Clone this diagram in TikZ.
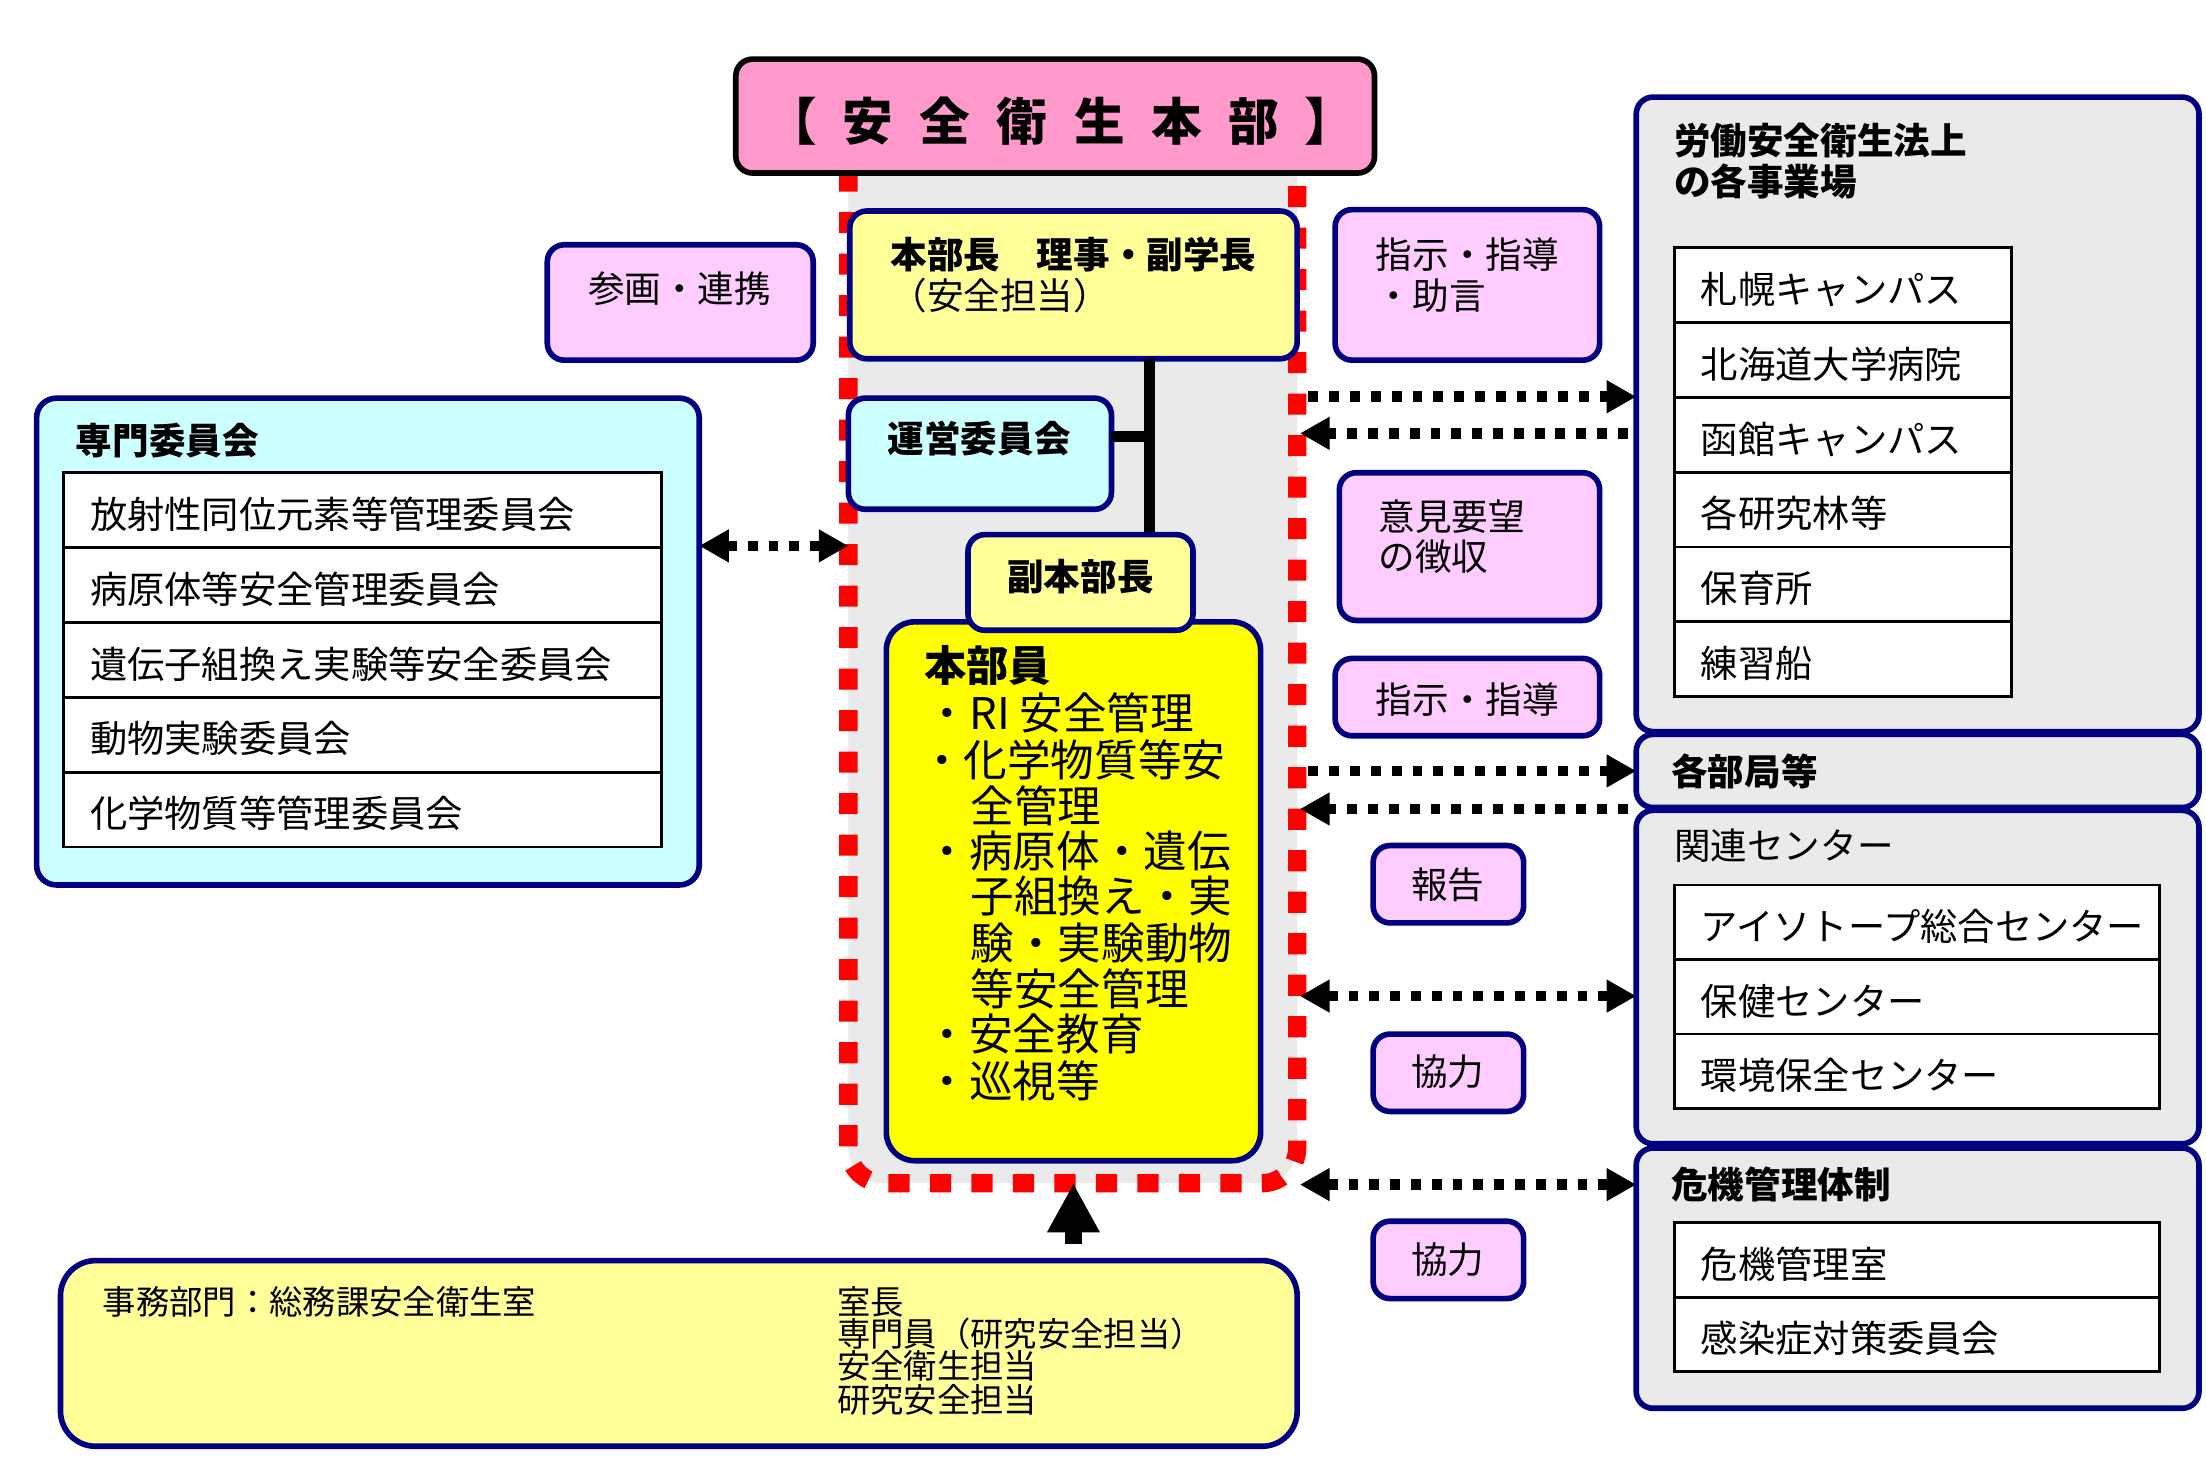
\documentclass[tikz,border=0pt]{standalone}
\usepackage{fontspec}
\setmainfont{Noto Sans CJK JP}
\usetikzlibrary{arrows.meta}
\definecolor{navy}{HTML}{000080}
\definecolor{pinkt}{HTML}{FF99CC}
\definecolor{lpink}{HTML}{FFCCFF}
\definecolor{lcyan}{HTML}{CCFFFF}
\definecolor{lyel}{HTML}{FFFF99}
\definecolor{yel}{HTML}{FFFF00}
\definecolor{lgray}{HTML}{EAEAEA}
\newcommand\fsz[1]{\fontsize{#1pt}{#1pt}\selectfont}
\begin{document}
\begin{tikzpicture}[x=1pt,y=-1pt,
  every node/.style={inner sep=0pt, outer sep=0pt},
  box/.style={draw=navy, line width=4pt, rounded corners=12pt, anchor=north west},
  txt/.style={anchor=west, font=\fsz{26}},
  btxt/.style={anchor=west, font=\fsz{26}\bfseries},
  ctxt/.style={font=\fsz{26}},
  row/.style={draw=black, line width=2pt, fill=white, anchor=north west, align=left, inner xsep=19pt,
              font=\fsz{26.5}, text height=28pt, text depth=2pt},
  dotline/.style={line width=7.5pt, dash pattern=on 7pt off 7.8pt},
  bigline/.style={line width=8pt}
]
\useasboundingbox (0,0) rectangle (1568,1051);
\fill[white] (0,0) rectangle (1568,1051);

% central region
\node[draw=red, fill=lgray, line width=13pt, dash pattern=on 15pt off 14.5pt, rounded corners=25pt,
      minimum width=319pt, minimum height=761pt, anchor=south west] (core) at (603,841) {};

% title
\node[draw=black, line width=4pt, fill=pinkt, rounded corners=12pt, minimum width=454pt, minimum height=81pt,
      anchor=north west] (title) at (523,42) {};
\node[font=\fsz{36}\bfseries] (titletext) at (754,86) {【\hspace{18pt}安\hspace{19pt}全\hspace{19pt}衛\hspace{19pt}生\hspace{19pt}本\hspace{19pt}部\hspace{18pt}】};

% connectors inside core
\coordinate (vx) at (817,0);
\coordinate (hy) at (0,310);

% boxes in core
\node[box, fill=lyel, minimum width=318pt, minimum height=105pt] (honbucho) at (604,150) {};
\node[box, fill=lcyan, minimum width=187pt, minimum height=79pt] (unei) at (603,283) {};
\draw[bigline] (honbucho.south -| vx) -- (vx |- 0,380) coordinate (vend);
\draw[bigline] (unei.east |- hy) -- (vx |- hy);
\node[btxt] (hb1) at (633,181) {本部長　理事・副学長};
\node[txt] (hb2) at (633,210) {（安全担当）};
\node[btxt, anchor=center] (uneit) at (696,312) {運営委員会};

\node[box, fill=yel, rounded corners=20pt, minimum width=266pt, minimum height=383pt] (honbuin) at (630,442) {};
\node[box, fill=lyel, minimum width=160pt, minimum height=68pt] (fuku) at (688,380) {};
\node[btxt, anchor=center] (fukut) at (768,410) {副本部長};

\node[anchor=west, font=\fsz{30}\bfseries] (m0) at (657,473) {本部員};
\node[anchor=west, font=\fsz{31}] (m1) at (658,507) {・RI 安全管理};
\node[anchor=west, font=\fsz{31}] (m2) at (654,540) {・化学物質等安};
\node[anchor=west, font=\fsz{31}] (m3) at (690,573) {全管理};
\node[anchor=west, font=\fsz{31}] (m4) at (658,605) {・病原体・遺伝};
\node[anchor=west, font=\fsz{31}] (m5) at (690,637) {子組換え・実};
\node[anchor=west, font=\fsz{31}] (m6) at (690,670) {験・実験動物};
\node[anchor=west, font=\fsz{31}] (m7) at (690,703) {等安全管理};
\node[anchor=west, font=\fsz{31}] (m8) at (658,735) {・安全教育};
\node[anchor=west, font=\fsz{31}] (m9) at (658,768) {・巡視等};

% left side
\node[box, fill=lpink, minimum width=189pt, minimum height=82pt] (sankaku) at (389,174) {};
\node[ctxt] (sankakut) at (483,205) {参画・連携};

\node[box, fill=lcyan, rounded corners=14pt, minimum width=471pt, minimum height=346pt] (senmon) at (26,283) {};
\node[btxt] (senmont) at (54,313) {専門委員会};
\node[row, text width=387pt, minimum height=53.2pt] (s1) at (45,336) {放射性同位元素等管理委員会};
\node[row, text width=387pt, minimum height=53.2pt] (s2) at (45,389.2) {病原体等安全管理委員会};
\node[row, text width=387pt, minimum height=53.2pt] (s3) at (45,442.4) {遺伝子組換え実験等安全委員会};
\node[row, text width=387pt, minimum height=53.2pt] (s4) at (45,495.6) {動物実験委員会};
\node[row, text width=387pt, minimum height=53.2pt] (s5) at (45,548.8) {化学物質等管理委員会};

\coordinate (ly) at (0,388);
\draw[dotline, {Triangle[length=21pt, width=22pt]}-{Triangle[length=21pt, width=22pt]}] (senmon.east |- ly) -- (core.west |- ly);

% right pink boxes
\node[box, fill=lpink, minimum width=188pt, minimum height=107pt] (shiji1) at (949,149) {};
\node[txt] (shiji1a) at (978,181) {指示・指導};
\node[txt] (shiji1b) at (978,210) {・助言};
\node[box, fill=lpink, minimum width=185pt, minimum height=105pt] (iken) at (952,336) {};
\node[txt] (ikena) at (980,367) {意見要望};
\node[txt] (ikenb) at (980,396) {の徴収};
\node[box, fill=lpink, minimum width=188pt, minimum height=55pt] (shiji2) at (949,468) {};
\node[ctxt] (shiji2t) at (1043,497) {指示・指導};
\node[box, fill=lpink, minimum width=107pt, minimum height=55pt] (hokoku) at (976,601) {};
\node[ctxt] (hokokut) at (1029,629) {報告};
\node[box, fill=lpink, minimum width=107pt, minimum height=55pt] (kyo1) at (976,735) {};
\node[ctxt] (kyo1t) at (1029,762) {協力};
\node[box, fill=lpink, minimum width=107pt, minimum height=55pt] (kyo2) at (976,868) {};
\node[ctxt] (kyo2t) at (1029,895) {協力};

% right gray boxes
\node[box, fill=lgray, minimum width=400pt, minimum height=451pt] (ra) at (1163,69) {};
\node[btxt] (rat1) at (1190,100) {労働安全衛生法上};
\node[btxt] (rat2) at (1190,129) {の各事業場};
\node[row, text width=202pt, minimum height=53.2pt] (a1) at (1190,176) {札幌キャンパス};
\node[row, text width=202pt, minimum height=53.2pt] (a2) at (1190,229.2) {北海道大学病院};
\node[row, text width=202pt, minimum height=53.2pt] (a3) at (1190,282.4) {函館キャンパス};
\node[row, text width=202pt, minimum height=53.2pt] (a4) at (1190,335.6) {各研究林等};
\node[row, text width=202pt, minimum height=53.2pt] (a5) at (1190,388.8) {保育所};
\node[row, text width=202pt, minimum height=53.2pt] (a6) at (1190,442) {練習船};

\node[box, fill=lgray, minimum width=400pt, minimum height=52pt] (rb) at (1163,522) {};
\node[btxt] (rbt) at (1188,548) {各部局等};

\node[box, fill=lgray, minimum width=400pt, minimum height=237pt] (rc) at (1163,576) {};
\node[txt] (rct) at (1190,601) {関連センター};
\node[row, text width=307pt, minimum height=53pt] (c1) at (1190,629) {アイソトープ総合センター};
\node[row, text width=307pt, minimum height=53pt] (c2) at (1190,682) {保健センター};
\node[row, text width=307pt, minimum height=53pt] (c3) at (1190,735) {環境保全センター};

\node[box, fill=lgray, minimum width=400pt, minimum height=185pt] (rd) at (1163,816) {};
\node[btxt] (rdt) at (1188,842) {危機管理体制};
\node[row, text width=307pt, minimum height=53pt] (d1) at (1190,869) {危機管理室};
\node[row, text width=307pt, minimum height=53pt] (d2) at (1190,922) {感染症対策委員会};

% dotted arrows right
\coordinate (y1) at (0,282);
\coordinate (y2) at (0,308);
\coordinate (y3) at (0,548);
\coordinate (y4) at (0,575);
\coordinate (y5) at (0,708);
\coordinate (y6) at (0,842);
\draw[dotline, -{Triangle[length=21pt, width=22pt]}] ([xshift=8pt]core.east |- y1) -- (ra.west |- y1);
\draw[dotline, -{Triangle[length=21pt, width=22pt]}] ([xshift=-6pt]ra.west |- y2) -- ([xshift=2pt]core.east |- y2);
\draw[dotline, -{Triangle[length=21pt, width=22pt]}] ([xshift=8pt]core.east |- y3) -- (rb.west |- y3);
\draw[dotline, -{Triangle[length=21pt, width=22pt]}] ([xshift=-6pt]rb.west |- y4) -- ([xshift=2pt]core.east |- y4);
\draw[dotline, {Triangle[length=21pt, width=22pt]}-{Triangle[length=21pt, width=22pt]}] ([xshift=2pt]core.east |- y5) -- (rc.west |- y5);
\draw[dotline, {Triangle[length=21pt, width=22pt]}-{Triangle[length=21pt, width=22pt]}] ([xshift=2pt]core.east |- y6) -- (rd.west |- y6);

% bottom box
\node[box, fill=lyel, rounded corners=25pt, minimum width=879pt, minimum height=132pt] (jimu) at (43,896) {};
\node[anchor=west, font=\fsz{23.7}] (j0) at (73,925) {事務部門：総務課安全衛生室};
\node[anchor=west, font=\fsz{23.7}] (j1) at (595,925) {室長};
\node[anchor=west, font=\fsz{23.7}] (j2) at (595,948) {専門員（研究安全担当）};
\node[anchor=west, font=\fsz{23.7}] (j3) at (595,971) {安全衛生担当};
\node[anchor=west, font=\fsz{23.7}] (j4) at (595,995) {研究安全担当};

\coordinate (upstart) at (763,884);
\draw[line width=12pt, -{Triangle[length=35pt, width=35pt]}] (upstart) -- (upstart |- core.south);
\end{tikzpicture}
\end{document}
